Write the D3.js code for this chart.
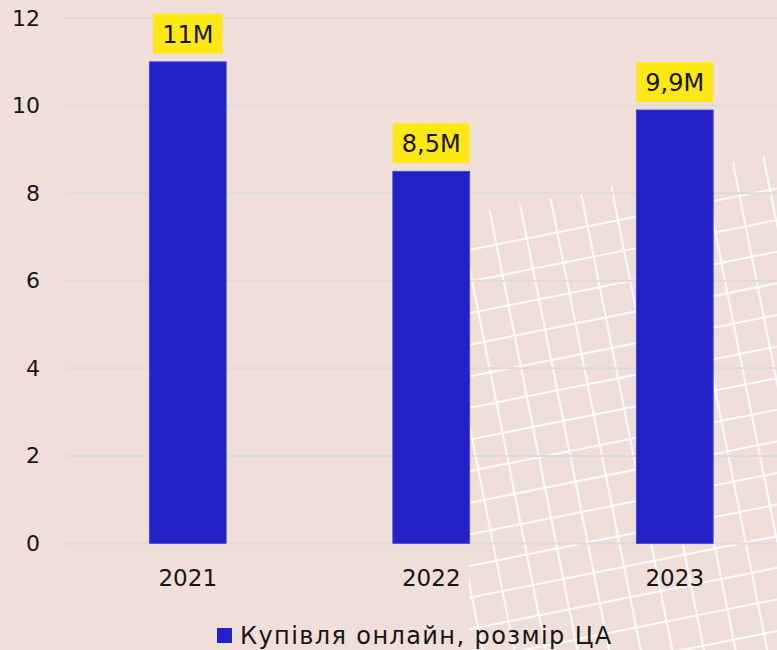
<!DOCTYPE html>
<html>
<head>
<meta charset="utf-8">
<script src="https://cdn.jsdelivr.net/npm/d3@7"></script>
<style>
  html, body { margin: 0; padding: 0; background: #f0dfd8; }
  svg { display: block; }
  text { font-family: "DejaVu Sans", "Open Sans", sans-serif; fill: #151515; }
</style>
</head>
<body>
<svg id="chart" width="777" height="650"></svg>
<script>
// Online purchases, audience size (millions)
const years = ["2021", "2022", "2023"];
const values = [11, 8.5, 9.9];
const valueLabels = ["11M", "8,5M", "9,9M"];
const yTicks = [0, 2, 4, 6, 8, 10, 12];
const seriesName = "Купівля онлайн, розмір ЦА";

const W = 777, H = 650;
const barColor = "#2420c8";
const labelBg = "#fde815";
const fontFamily = "'DejaVu Sans', sans-serif";

const svg = d3.select("#chart");

svg.append("rect").attr("width", W).attr("height", H).attr("fill", "#f0dfd8");

// Decorative tilted white grid in the lower right corner
const deco = svg.append("g");
deco.append("clipPath").attr("id", "decoClip")
  .append("rect").attr("x", 469).attr("y", 0).attr("width", W - 469).attr("height", H);
const cell = 31;
const decoG = deco.append("g").attr("clip-path", "url(#decoClip)")
  .append("g").attr("transform", "translate(469,250) rotate(-11.3)");
decoG.selectAll("line.h").data(d3.range(0, 16)).join("line")
  .attr("class", "h")
  .attr("x1", -200).attr("x2", 420)
  .attr("y1", d => d * cell).attr("y2", d => d * cell)
  .attr("stroke", "#ffffff").attr("stroke-width", 2).attr("stroke-opacity", 0.9);
decoG.selectAll("line.v").data(d3.range(-3, 14)).join("line")
  .attr("class", "v")
  .attr("x1", d => 28 + d * cell).attr("x2", d => 28 + d * cell)
  .attr("y1", d => d < 0 ? 0 : -34).attr("y2", 520)
  .attr("stroke", "#ffffff").attr("stroke-width", 2).attr("stroke-opacity", 0.9);

const x = d3.scaleBand().domain(years).range([66, 796.5])
  .paddingInner(0.684).paddingOuter(0.342);
const y = d3.scaleLinear().domain([0, 12]).range([543.5, 18]);

// Horizontal gridlines
svg.append("g").selectAll("line").data(yTicks).join("line")
  .attr("x1", 66).attr("x2", W)
  .attr("y1", d => y(d)).attr("y2", d => y(d))
  .attr("stroke", "#dcdada").attr("stroke-width", 2);

// Y axis labels
const yAxis = d3.axisLeft(y).tickValues(yTicks).tickSize(0).tickPadding(0);
svg.append("g").attr("transform", "translate(40,0)").call(yAxis)
  .call(g => g.select(".domain").remove())
  .call(g => g.selectAll("text").attr("font-size", 22)
    .attr("font-family", fontFamily).attr("fill", "#151515"));

// X axis labels
const xAxis = d3.axisBottom(x).tickSize(0).tickPadding(0);
svg.append("g").attr("transform", "translate(0,570)").call(xAxis)
  .call(g => g.select(".domain").remove())
  .call(g => g.selectAll("text").attr("font-size", 23)
    .attr("font-family", fontFamily).attr("fill", "#151515"));

// Bars
svg.append("g").selectAll("rect").data(values).join("rect")
  .attr("x", (d, i) => x(years[i]))
  .attr("y", d => y(d))
  .attr("width", x.bandwidth())
  .attr("height", d => y(0) - y(d))
  .attr("fill", barColor)
  .attr("stroke", "#4e4cd6").attr("stroke-width", 0.8);

// Value labels on yellow boxes
const lab = svg.append("g").selectAll("g").data(values).join("g");
lab.each(function (d, i) {
  const g = d3.select(this);
  const cx = x(years[i]) + x.bandwidth() / 2;
  const bottom = y(d) - 8;
  const bg = g.append("rect").attr("fill", labelBg);
  const t = g.append("text").text(valueLabels[i])
    .attr("x", cx).attr("y", bottom - 11)
    .attr("text-anchor", "middle").attr("font-size", 24);
  const w = t.node().getComputedTextLength() + 18;
  bg.attr("x", cx - w / 2).attr("y", bottom - 40).attr("width", w).attr("height", 40);
});

// Legend
const leg = svg.append("g");
leg.append("rect").attr("x", 217).attr("y", 628).attr("width", 15).attr("height", 15).attr("fill", barColor);
leg.append("text").attr("x", 240).attr("y", 644).attr("font-size", 24)
  .attr("letter-spacing", 1.4).text(seriesName);
</script>
</body>
</html>
